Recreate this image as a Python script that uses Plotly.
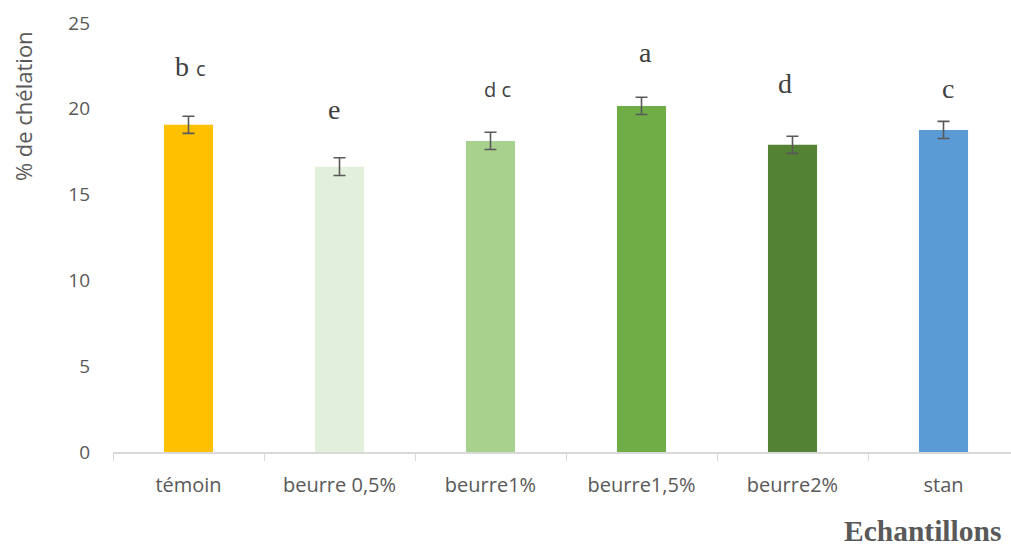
import plotly.graph_objects as go

categories = ["témoin", "beurre 0,5%", "beurre1%", "beurre1,5%", "beurre2%", "stan"]
values = [19.07, 16.63, 18.13, 20.17, 17.9, 18.77]
errors = [0.5, 0.52, 0.5, 0.5, 0.5, 0.5]
colors = ["#FFC000", "#E2EFDA", "#A9D18E", "#70AD47", "#548235", "#5B9BD5"]
letters = ["b <span style='font-family:Open Sans;font-size:20px'>c</span>",
           "e",
           "<span style='font-family:Open Sans;font-size:20px'>d c</span>",
           "a", "d", "c"]
letter_y = [22.45, 19.95, 21.15, 23.3, 21.5, 21.2]
letter_dx = [2, -6, 7, 4, -8, 4]

fig = go.Figure()
fig.add_trace(go.Bar(
    x=categories, y=values,
    marker=dict(color=colors, line=dict(width=0)),
    error_y=dict(type="data", array=errors, color="#595959", thickness=1.6, width=6),
))

for c, t, yy, dx in zip(categories, letters, letter_y, letter_dx):
    fig.add_annotation(x=c, y=yy, text=t, showarrow=False, xshift=dx,
                       font=dict(family="Liberation Serif", size=28, color="#404040"),
                       xanchor="center", yanchor="middle")

fig.add_annotation(xref="paper", yref="paper", x=-0.101, y=0.807,
                   text="% de chélation", textangle=-90, showarrow=False,
                   font=dict(family="Open Sans", size=22, color="#595959"),
                   xanchor="center", yanchor="middle")
fig.add_annotation(xref="paper", yref="paper", x=0.812, y=-0.185,
                   text="<b>Echantillons</b>", showarrow=False,
                   font=dict(family="Liberation Serif", size=29.5, color="#595959"),
                   xanchor="left", yanchor="middle")

fig.update_layout(
    width=1011, height=546,
    margin=dict(l=113, r=0, t=23, b=94),
    paper_bgcolor="white", plot_bgcolor="white",
    bargap=0.675, showlegend=False,
    font=dict(family="Open Sans", size=19, color="#595959"),
)
fig.update_xaxes(range=[-0.5, 5.447], showgrid=False, showline=True,
                 linecolor="#D9D9D9", linewidth=1.5, ticks="outside",
                 tickson="boundaries", ticklen=7, tickcolor="#D9D9D9",
                 ticklabelstandoff=14,
                 tickfont=dict(size=20, color="#595959"))
fig.update_yaxes(range=[0, 25], dtick=5, showgrid=False, showline=False,
                 zeroline=False, ticks="", ticklabelstandoff=22,
                 tickfont=dict(size=19, color="#595959"))

fig.write_html("out.html", config={"displayModeBar": False},
               post_script="document.body.style.margin='0';document.body.style.overflow='hidden';")
